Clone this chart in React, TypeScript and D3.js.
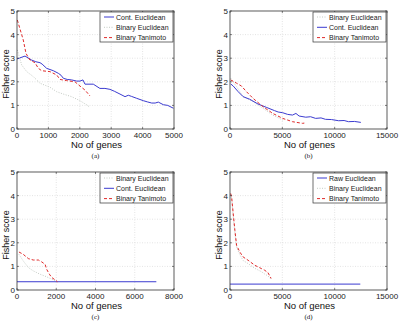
import * as d3 from 'd3';

type Pt = [number, number];

// panel (a)
const aContEuclid: Pt[] = [[0, 2.97], [255, 3.09], [468, 2.92], [600, 2.85], [732, 2.81], [800, 2.75], [945, 2.57], [1157, 2.47], [1316, 2.36], [1400, 2.28], [1475, 2.15], [1600, 2.1], [1740, 2.08], [1900, 2.03], [2006, 2.03], [2100, 2.08], [2165, 1.9], [2430, 1.9], [2640, 1.72], [2800, 1.72], [2960, 1.68], [3100, 1.6], [3280, 1.48], [3440, 1.37], [3545, 1.43], [3650, 1.38], [3812, 1.3], [4023, 1.2], [4150, 1.15], [4290, 1.1], [4400, 1.1], [4500, 1.14], [4660, 1.03], [4800, 1.0], [4980, 0.88]];
const aBinEuclid: Pt[] = [[10, 3.35], [150, 2.71], [310, 2.43], [520, 2.22], [730, 1.94], [1050, 1.77], [1264, 1.58], [1475, 1.48], [1740, 1.37], [2006, 1.2], [2220, 1.02], [2325, 0.92]];
const aBinTanimoto: Pt[] = [[10, 4.62], [200, 3.77], [287, 3.2], [414, 2.92], [573, 2.81], [680, 2.57], [786, 2.47], [1050, 2.43], [1264, 2.29], [1370, 2.1], [1582, 2.05], [1847, 2.0], [2006, 1.82], [2165, 1.65], [2325, 1.4]];

// panel (b)
const bBinEuclid: Pt[] = [[66, 2.15], [630, 1.79], [1255, 1.37], [2200, 1.16], [3140, 0.88], [4090, 0.59], [5030, 0.38]];
const bContEuclid: Pt[] = [[66, 1.91], [311, 1.82], [783, 1.58], [1255, 1.37], [1887, 1.26], [2670, 1.06], [3460, 0.92], [4245, 0.78], [4600, 0.72], [5030, 0.69], [5500, 0.62], [5970, 0.59], [6300, 0.66], [6600, 0.55], [7240, 0.5], [7700, 0.52], [8180, 0.45], [8700, 0.47], [9120, 0.41], [9700, 0.4], [10380, 0.35], [10900, 0.36], [11320, 0.31], [11900, 0.32], [12500, 0.28]];
const bBinTanimoto: Pt[] = [[66, 2.08], [630, 1.94], [1100, 1.82], [1575, 1.58], [2200, 1.3], [3140, 0.95], [4090, 0.66], [5030, 0.45], [5970, 0.31], [6920, 0.24], [7100, 0.25]];

// panel (c)
const cBinEuclid: Pt[] = [[100, 1.51], [320, 1.23], [580, 0.95], [830, 0.81], [1170, 0.67], [1510, 0.56], [1770, 0.46], [1940, 0.4], [2000, 0.35]];
const cContEuclid: Pt[] = [[0, 0.35], [7100, 0.35]];
const cBinTanimoto: Pt[] = [[100, 1.61], [320, 1.51], [580, 1.33], [830, 1.27], [1090, 1.27], [1260, 1.19], [1430, 1.09], [1510, 0.88], [1650, 0.67], [1770, 0.53], [1940, 0.43], [2060, 0.35]];

// panel (d)
const dRawEuclid: Pt[] = [[0, 0.25], [12450, 0.25]];
const dBinEuclid: Pt[] = [[66, 4.05], [160, 3.85], [310, 3.1], [470, 2.4], [630, 1.8], [940, 1.5], [1255, 1.25], [1730, 1.12], [2360, 0.92], [2990, 0.78], [3300, 0.68], [3620, 0.6], [3930, 0.45]];
const dBinTanimoto: Pt[] = [[66, 4.09], [160, 3.92], [310, 3.22], [470, 2.52], [630, 1.89], [940, 1.61], [1255, 1.4], [1730, 1.26], [2360, 1.05], [2990, 0.91], [3300, 0.84], [3620, 0.74], [3930, 0.49]];

const yTicks = [0, 1, 2, 3, 4, 5];
const xTicksA = [0, 1000, 2000, 3000, 4000, 5000];
const xTicksB = [0, 5000, 10000, 15000];
const xTicksC = [0, 2000, 4000, 6000, 8000];

type Series = { name: string; data: Pt[]; color: string; dash: string };

const BLUE = '#3b3bd0';
const RED = '#e02a2a';
const GRAY = '#c4cbc4';

const styles = {
  cont: { color: BLUE, dash: '' },
  bin: { color: GRAY, dash: '1,1.5' },
  tani: { color: RED, dash: '3,2' },
};

interface PanelProps {
  ox: number;
  oy: number;
  xTicks: number[];
  series: Series[];
  caption: string;
}

const Panel = ({ ox, oy, xTicks, series, caption }: PanelProps) => {
  const left = 17;
  const w = 157;
  const top = 11;
  const h = 118;
  const x = d3.scaleLinear().domain([0, xTicks[xTicks.length - 1]]).range([left, left + w]);
  const y = d3.scaleLinear().domain([0, 5]).range([top + h, top]);
  const line = d3.line<Pt>().x(d => x(d[0])).y(d => y(d[1]));
  const font = 'Arial, "Liberation Sans", sans-serif';
  const lx = left + w - 74;
  return (
    <g transform={`translate(${ox},${oy})`}>
      <rect x={left} y={top} width={w} height={h} fill="#fff" />
      {xTicks.slice(1, -1).map(t => (
        <line key={'gx' + t} x1={x(t)} x2={x(t)} y1={top} y2={top + h} stroke="#d8d8d8" strokeWidth={0.7} strokeDasharray="1,1.5" />
      ))}
      {yTicks.slice(1, -1).map(t => (
        <line key={'gy' + t} x1={left} x2={left + w} y1={y(t)} y2={y(t)} stroke="#d8d8d8" strokeWidth={0.7} strokeDasharray="1,1.5" />
      ))}
      {series.map(s => (
        <path key={s.name} d={line(s.data) || ''} fill="none" stroke={s.color} strokeWidth={1} strokeDasharray={s.dash || undefined} />
      ))}
      <rect x={left} y={top} width={w} height={h} fill="none" stroke="#333" strokeWidth={0.8} />
      {xTicks.map(t => (
        <g key={'tx' + t}>
          <line x1={x(t)} x2={x(t)} y1={top + h} y2={top + h - 2} stroke="#333" strokeWidth={0.6} />
          <line x1={x(t)} x2={x(t)} y1={top} y2={top + 2} stroke="#333" strokeWidth={0.6} />
          <text x={x(t)} y={top + h + 9} textAnchor="middle" fontSize={8} fontFamily={font} fill="#222">{t}</text>
        </g>
      ))}
      {yTicks.map(t => (
        <g key={'ty' + t}>
          <line x1={left} x2={left + 2} y1={y(t)} y2={y(t)} stroke="#333" strokeWidth={0.6} />
          <line x1={left + w} x2={left + w - 2} y1={y(t)} y2={y(t)} stroke="#333" strokeWidth={0.6} />
          <text x={left - 2} y={y(t) + 3} textAnchor="end" fontSize={8} fontFamily={font} fill="#222">{t}</text>
        </g>
      ))}
      <text transform={`translate(9,${top + h / 2 + 4}) rotate(-90)`} textAnchor="middle" fontSize={9} fontFamily={font} fill="#111">Fisher score</text>
      <text x={left + w / 2 + 1} y={top + h + 19} textAnchor="middle" fontSize={9.5} fontFamily={font} fill="#111">No of genes</text>
      <text x={left + w / 2} y={top + h + 29} textAnchor="middle" fontSize={7} fontFamily='"Liberation Serif", serif' fill="#111">{caption}</text>
      <rect x={lx} y={top + 1} width={73} height={30} fill="#fff" stroke="#333" strokeWidth={0.7} />
      {series.map((s, i) => (
        <g key={'lg' + s.name}>
          <line x1={lx + 4} x2={lx + 14} y1={top + 6 + i * 10.3} y2={top + 6 + i * 10.3} stroke={s.color} strokeWidth={1} strokeDasharray={s.dash || undefined} />
          <text x={lx + 16} y={top + 8.6 + i * 10.3} fontSize={7} fontFamily={font} fill="#222">{s.name}</text>
        </g>
      ))}
    </g>
  );
};

const App = () => {
  const panelA: Series[] = [
    { name: 'Cont. Euclidean', data: aContEuclid, ...styles.cont },
    { name: 'Binary Euclidean', data: aBinEuclid, ...styles.bin },
    { name: 'Binary Tanimoto', data: aBinTanimoto, ...styles.tani },
  ];
  const panelB: Series[] = [
    { name: 'Binary Euclidean', data: bBinEuclid, ...styles.bin },
    { name: 'Cont. Euclidean', data: bContEuclid, ...styles.cont },
    { name: 'Binary Tanimoto', data: bBinTanimoto, ...styles.tani },
  ];
  const panelC: Series[] = [
    { name: 'Binary Euclidean', data: cBinEuclid, ...styles.bin },
    { name: 'Cont. Euclidean', data: cContEuclid, ...styles.cont },
    { name: 'Binary Tanimoto', data: cBinTanimoto, ...styles.tani },
  ];
  const panelD: Series[] = [
    { name: 'Raw Euclidean', data: dRawEuclid, ...styles.cont },
    { name: 'Binary Euclidean', data: dBinEuclid, ...styles.bin },
    { name: 'Binary Tanimoto', data: dBinTanimoto, ...styles.tani },
  ];
  return (
    <svg width={400} height={322} style={{ position: 'absolute', left: 0, top: 0, background: '#fff' }}>
      <Panel ox={0} oy={0} xTicks={xTicksA} series={panelA} caption="(a)" />
      <Panel ox={213} oy={0} xTicks={xTicksB} series={panelB} caption="(b)" />
      <Panel ox={0} oy={161} xTicks={xTicksC} series={panelC} caption="(c)" />
      <Panel ox={213} oy={161} xTicks={xTicksB} series={panelD} caption="(d)" />
    </svg>
  );
};

export default App;
